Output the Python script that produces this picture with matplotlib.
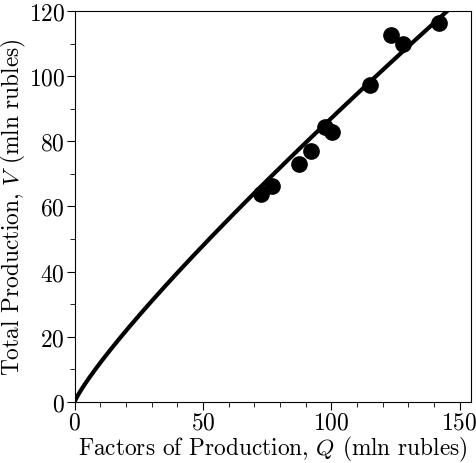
import matplotlib
matplotlib.use("Agg")
import matplotlib.pyplot as plt
import numpy as np
from matplotlib.ticker import MultipleLocator

plt.rcParams["font.family"] = "serif"
plt.rcParams["font.serif"] = ["cmr10"]
plt.rcParams["mathtext.fontset"] = "cm"
plt.rcParams["axes.formatter.use_mathtext"] = True

# observed points (mln rubles)
q_obs = [72.4, 76.9, 87.3, 92.2, 97.4, 100.2, 114.9, 123.1, 127.9, 141.9]
v_obs = [63.8, 66.4, 72.9, 76.9, 84.3, 82.8, 97.4, 112.5, 110.0, 116.3]

# power-law fit V = a * Q^b
fit_a = 1.66
fit_b = 0.86

q_line = np.linspace(0, 155, 400)
v_line = fit_a * q_line ** fit_b

fig = plt.figure(figsize=(4.76, 4.64), dpi=100)
ax = fig.add_axes([0.157, 0.132, 0.833, 0.842])

ax.plot(q_line, v_line, color="black", lw=3.0, zorder=2)
ax.plot(q_obs, v_obs, "o", color="black", ms=11, zorder=3)

ax.set_xlim(0, 154.5)
ax.set_ylim(0, 120)
ax.xaxis.set_major_locator(MultipleLocator(50))
ax.xaxis.set_minor_locator(MultipleLocator(10))
ax.yaxis.set_major_locator(MultipleLocator(20))
ax.yaxis.set_minor_locator(MultipleLocator(10))
ax.tick_params(which="both", direction="out", labelsize=17, pad=1.5)
ax.tick_params(which="major", length=5.5)
ax.tick_params(which="minor", length=3.5)

ax.set_xlabel(r"Factors of Production, $Q$ (mln rubles)", fontsize=16.8, labelpad=0.5)
ax.set_ylabel(r"Total Production, $V$ (mln rubles)", fontsize=16.8, labelpad=0.5)

fig.savefig("out.png", dpi=100)
